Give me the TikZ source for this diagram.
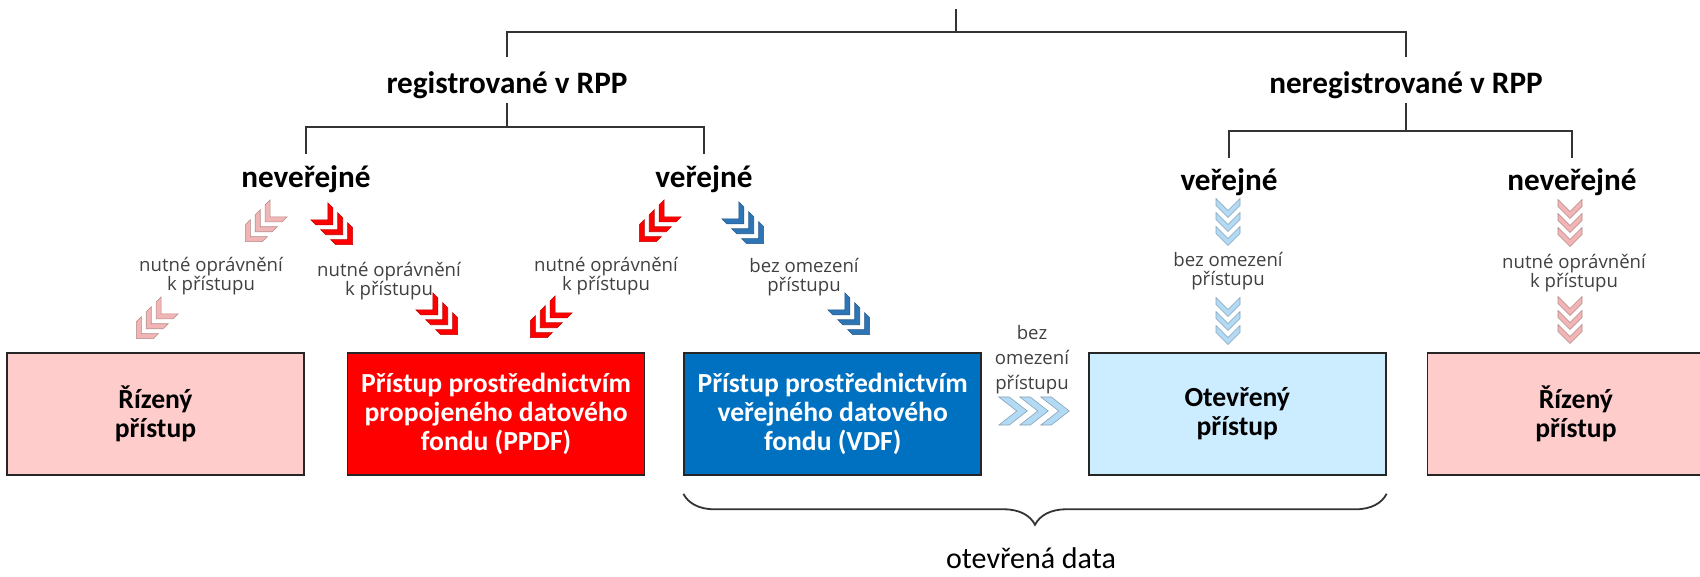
\documentclass[tikz,border=0pt]{standalone}
\usepackage{fontspec}
\setmainfont{Carlito}
\newfontfamily\notefont{Open Sans}
\usetikzlibrary{positioning, decorations.pathreplacing}
\definecolor{palepink}{HTML}{FFCCCC}
\definecolor{paleblue}{HTML}{CCECFF}
\definecolor{vdfblue}{HTML}{0070C0}
\definecolor{ppdfred}{HTML}{FF0000}
\definecolor{chevpink}{HTML}{F2B5B5}
\definecolor{chevblue}{HTML}{2E75B6}
\definecolor{chevsky}{HTML}{B3DAF5}

\tikzset{
  chevs/.pic={
    \foreach \d in {-14,0,14}
      \filldraw[fill=#1, draw=#1!75!black, line width=0.3pt] (-12,\d-9.5) -- (0,\d+2.5) -- (12,\d-9.5) -- (12,\d-2.5) -- (0,\d+9.5) -- (-12,\d-2.5) -- cycle;
  }
}

\begin{document}
\begin{tikzpicture}[x=0.5pt, y=-0.5pt,
    head/.style={inner sep=0pt, font=\fontsize{15.6}{18}\selectfont\bfseries},
    box/.style={rectangle, draw=black!85, line width=0.8pt, minimum width=148.5pt, minimum height=61pt, align=center, font=\fontsize{13.8}{14.6}\selectfont\bfseries},
    note/.style={align=center, text=black!75, font=\notefont\fontsize{9.3}{9.6}\selectfont},
    tree/.style={draw=black!80, line width=0.9pt},
    brace/.style={decorate, decoration={brace, mirror, amplitude=15.5pt}, draw=black!80, line width=0.9pt}
  ]
\useasboundingbox (0,0) rectangle (1700,577);
\clip (0,0) rectangle (1700,577);

% levels of the tree
\coordinate (top) at (956,9);
\coordinate (bar0) at (0,32);
\coordinate (drop0) at (0,57);
\coordinate (stem) at (0,103);
\coordinate (bar1) at (0,127);
\coordinate (drop1) at (0,154);
\coordinate (bar2) at (0,131);
\coordinate (drop2) at (0,158);

\node[head] (reg) at (507,85) {registrované v RPP};
\node[head] (nereg) at (1406,85) {neregistrované v RPP};
\node[head] (nev1) at (306,179) {neveřejné};
\node[head] (ver1) at (704,179) {veřejné};
\node[head] (ver2) at (1229,182) {veřejné};
\node[head] (nev2) at (1572,182) {neveřejné};

\draw[tree] (top) -- (top |- bar0);
\draw[tree] (reg |- drop0) |- (top |- bar0) -| (nereg |- drop0);
\draw[tree] (reg |- stem) -- (reg |- bar1);
\draw[tree] (nev1 |- drop1) |- (reg |- bar1) -| (ver1 |- drop1);
\draw[tree] (nereg |- stem) -- (nereg |- bar2);
\draw[tree] (ver2 |- drop2) |- (nereg |- bar2) -| (nev2 |- drop2);

% boxes
\node[box, fill=palepink] (bx1) at (155.5,414) {Řízený\\přístup};
\node[box, fill=ppdfred, text=white, right=21pt of bx1] (bx2) {Přístup prostřednictvím\\propojeného datového\\fondu (PPDF)};
\node[box, fill=vdfblue, text=white, right=19pt of bx2] (bx3) {Přístup prostřednictvím\\veřejného datového\\fondu (VDF)};
\node[box, fill=paleblue, right=53pt of bx3] (bx4) {Otevřený\\přístup};
\node[box, fill=palepink, right=20pt of bx4] (bx5) {Řízený\\přístup};

% notes
\node[note] (l1) at (211,276) {nutné oprávnění\\k přístupu};
\node[note] (l2) at (389,281) {nutné oprávnění\\k přístupu};
\node[note] (l3) at (606,276) {nutné oprávnění\\k přístupu};
\node[note] (l4) at (804,277) {bez omezení\\přístupu};
\node[note] (l5) at (1228,271) {bez omezení\\přístupu};
\node[note] (l6) at (1574,273) {nutné oprávnění\\k přístupu};
\node[note, font=\notefont\fontsize{9.3}{12.5}\selectfont] (l7) at (1032,360) {bez\\omezení\\přístupu};

% chevrons
\pic[rotate=-45] at (262,225) {chevs=chevpink};
\pic[rotate=-45] at (153,322) {chevs=chevpink};
\pic[rotate=45] at (336,228) {chevs=ppdfred};
\pic[rotate=45] at (441,318) {chevs=ppdfred};
\pic[rotate=-45] at (656,225) {chevs=ppdfred};
\pic[rotate=-45] at (547,321) {chevs=ppdfred};
\pic[rotate=45] at (747,227) {chevs=chevblue};
\pic[rotate=45] at (853,318) {chevs=chevblue};
\pic at (1228,222) {chevs=chevsky};
\pic at (1228,321) {chevs=chevsky};
\pic at (1570,223) {chevs=chevpink};
\pic at (1570,320) {chevs=chevpink};
\pic[rotate=90, xscale=1.17, yscale=1.5] at (1034,411) {chevs=chevsky};

% open data brace
\draw[brace] ([yshift=-9pt]bx3.south west) -- ([yshift=-9pt]bx4.south east);
\node[anchor=base, font=\fontsize{15}{18}\selectfont] (odata) at (1031,568) {otevřená data};
\end{tikzpicture}
\end{document}
